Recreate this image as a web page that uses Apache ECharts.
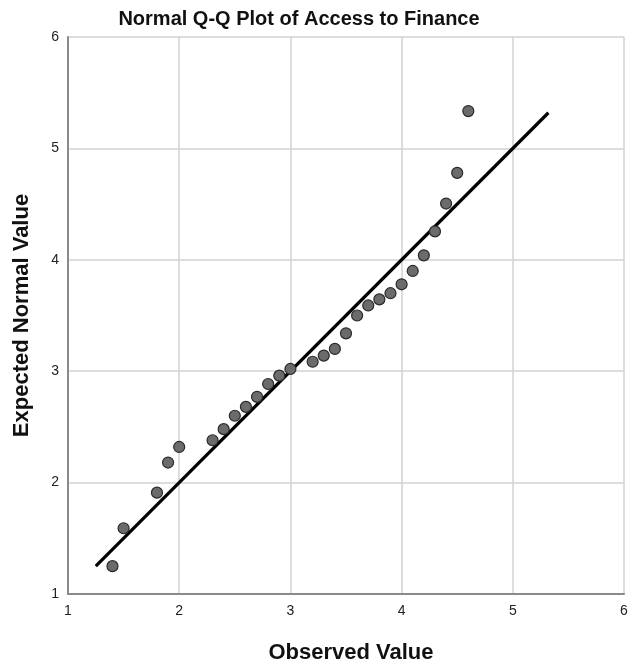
<!DOCTYPE html>
<html>
<head>
<meta charset="utf-8">
<script src="https://cdn.jsdelivr.net/npm/echarts@6/dist/echarts.min.js"></script>
<style>
html,body{margin:0;padding:0;background:#fff;}
#chart{width:636px;height:664px;}
</style>
</head>
<body>
<div id="chart"></div>
<script>
var chartTitle = 'Normal Q-Q Plot of Access to Finance';
var xAxisTitle = 'Observed Value';
var yAxisTitle = 'Expected Normal Value';
var observed = [1.4, 1.5, 1.8, 1.9, 2.0, 2.3, 2.4, 2.5, 2.6, 2.7, 2.8, 2.9, 3.0, 3.2, 3.3, 3.4, 3.5, 3.6, 3.7, 3.8, 3.9, 4.0, 4.1, 4.2, 4.3, 4.4, 4.5, 4.6];
var expected = [1.25, 1.59, 1.91, 2.18, 2.32, 2.38, 2.48, 2.60, 2.68, 2.77, 2.885, 2.96, 3.02, 3.085, 3.14, 3.20, 3.34, 3.50, 3.59, 3.645, 3.70, 3.78, 3.90, 4.04, 4.255, 4.505, 4.78, 5.335];
var refLineX = [1.25, 5.32];
var refLineY = [1.25, 5.32];
var axisMin = 1, axisMax = 6, axisStep = 1;

var points = observed.map(function (v, i) { return [v, expected[i]]; });
var refLine = refLineX.map(function (v, i) { return [v, refLineY[i]]; });

var chart = echarts.init(document.getElementById('chart'), null, {renderer: 'canvas'});
var fontFam = 'Liberation Sans, Arial, sans-serif';
chart.setOption({
  backgroundColor: '#ffffff',
  animation: false,
  title: [
    {text: chartTitle, left: 294, top: 4, textAlign: 'center',
     textStyle: {fontFamily: fontFam, fontSize: 20, fontWeight: 'bold', color: '#111'}},
    {text: xAxisTitle, left: 346, top: 637, textAlign: 'center',
     textStyle: {fontFamily: fontFam, fontSize: 22, fontWeight: 'bold', color: '#111'}}
  ],
  grid: {left: 68, right: 12, top: 37, bottom: 70, containLabel: false},
  xAxis: {
    type: 'value', min: axisMin, max: axisMax, interval: axisStep,
    axisLine: {show: true, lineStyle: {color: '#8a8a8a', width: 2}},
    axisTick: {show: false},
    axisLabel: {margin: 10, fontFamily: fontFam, fontSize: 14, color: '#222'},
    splitLine: {show: true, lineStyle: {color: '#d2d2d2', width: 1.5}}
  },
  yAxis: {
    type: 'value', min: axisMin, max: axisMax, interval: axisStep,
    name: yAxisTitle, nameLocation: 'middle', nameGap: 35,
    nameTextStyle: {fontFamily: fontFam, fontSize: 22, fontWeight: 'bold', color: '#111'},
    axisLine: {show: true, lineStyle: {color: '#8a8a8a', width: 2}},
    axisTick: {show: false},
    axisLabel: {margin: 9, fontFamily: fontFam, fontSize: 14, color: '#222', padding: [5, 0, 0, 0]},
    splitLine: {show: true, lineStyle: {color: '#d2d2d2', width: 1.5}}
  },
  series: [
    {
      type: 'line', data: refLine, symbol: 'none', silent: true,
      lineStyle: {color: '#000', width: 3.2}, z: 2
    },
    {
      type: 'scatter', data: points, symbol: 'circle', symbolSize: 11,
      itemStyle: {color: '#6b6b6b', borderColor: '#2a2a2a', borderWidth: 1.2, opacity: 1}, z: 3
    }
  ]
});
</script>
</body>
</html>
